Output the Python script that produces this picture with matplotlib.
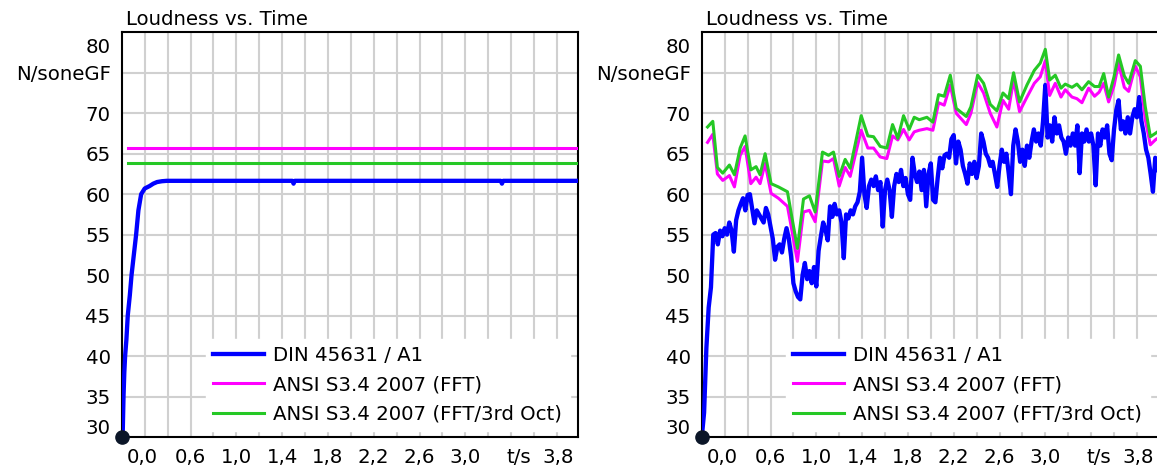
import numpy as np
import matplotlib
matplotlib.use("Agg")
import matplotlib.pyplot as plt

plt.rcParams['font.family'] = ['DejaVu Sans']
FS = 14.2

# ---------------- data ----------------
title_text = "Loudness vs. Time"
legend_labels = ["DIN 45631 / A1", "ANSI S3.4 2007 (FFT)", "ANSI S3.4 2007 (FFT/3rd Oct)"]

x_tick_values = [0.176, 0.6, 1.0, 1.4, 1.8, 2.2, 2.6, 3.0, 3.468, 3.812]
x_tick_labels = ["0,0", "0,6", "1,0", "1,4", "1,8", "2,2", "2,6", "3,0", "t/s", "3,8"]
y_tick_values = [31.27, 35, 40, 45, 50, 55, 60, 65, 70, 75, 78.43]
y_tick_labels = ["30", "35", "40", "45", "50", "55", "60", "65", "70", "N/soneGF", "80"]
x_grid = [0.2, 0.4, 0.6, 0.8, 1.0, 1.2, 1.4, 1.6, 1.8, 2.0, 2.2, 2.4, 2.6, 2.8,
          3.0, 3.2, 3.4, 3.6, 3.8]
y_grid = [35, 40, 45, 50, 55, 60, 65, 70, 75]

# Left panel (stationary signal)
left_din_t = [0.0, 0.008, 0.015, 0.022, 0.029, 0.04, 0.052, 0.07, 0.085, 0.105,
              0.125, 0.145, 0.169, 0.2, 0.242, 0.275, 0.308, 0.35, 0.393,
              1.49, 1.50, 1.51, 3.31, 3.32, 3.33, 3.985]
left_din_v = [30.0, 30.5, 35.0, 38.0, 40.0, 42.0, 45.0, 47.5, 50.0, 52.5,
              55.0, 58.0, 60.0, 60.7, 61.0, 61.3, 61.5, 61.6, 61.65,
              61.65, 61.3, 61.65, 61.65, 61.3, 61.65, 61.65]
left_fft_t = [0.05, 3.975]
left_fft_v = [65.75, 65.75]
left_oct_t = [0.05, 3.975]
left_oct_v = [63.9, 63.9]

# Right panel (time-varying signal)
right_din_v = [
    30.0, 33.0, 41.0, 46.0, 48.5, 55.0, 55.2, 53.8, 55.5, 54.8,
    55.8, 55.0, 56.5, 55.5, 52.9, 56.8, 58.0, 58.8, 59.5, 58.0,
    59.9, 60.0, 58.2, 56.4, 58.0, 57.5, 57.0, 56.5, 58.3, 57.5,
    56.0, 54.5, 51.9, 53.5, 53.8, 52.8, 54.5, 55.8, 54.5, 52.3,
    49.0, 48.0, 47.3, 47.0, 50.0, 51.5, 49.5, 50.5, 49.0, 51.0,
    48.6, 53.0, 54.8, 56.5, 55.6, 54.3, 58.5, 57.2, 58.8, 57.5,
    58.0, 56.5, 52.1, 57.5, 57.0, 58.0, 57.5, 58.5, 59.0, 60.3,
    64.5, 60.0, 58.3, 61.0, 61.8, 61.0, 62.2, 60.5, 61.5, 56.0,
    60.5, 61.8, 60.5, 57.2, 61.0, 62.5, 61.5, 63.0, 61.0, 62.0,
    60.0, 59.3, 64.5, 62.5, 61.5, 62.8, 60.5, 63.0, 58.5, 62.5,
    63.8, 59.3, 59.0, 62.0, 64.5, 63.2, 64.8, 65.0, 64.5, 66.8,
    67.3, 63.8, 66.5, 65.5, 63.5, 62.5, 61.3, 63.8, 62.5, 64.0,
    62.0, 63.5, 67.5, 66.5, 65.0, 64.5, 63.5, 64.0, 62.5, 60.9,
    63.5, 65.5, 64.0, 65.0, 62.6, 60.0, 66.0, 68.0, 66.5, 64.0,
    65.5, 63.5, 66.0, 64.5, 66.5, 68.0, 66.5, 67.5, 66.0, 69.0,
    73.5, 67.0, 68.5, 66.5, 69.5, 67.5, 68.5, 67.0, 66.5, 65.0,
    67.0, 66.0, 67.5, 66.0, 68.5, 62.6, 67.5, 66.5, 68.0, 66.5,
    67.5, 66.0, 61.1, 67.5, 66.0, 68.0, 67.0, 68.5, 65.0, 64.2,
    68.0, 70.4, 71.6, 68.0, 69.0, 67.5, 69.5, 67.5, 69.5, 70.5,
    69.5, 72.0, 69.0, 67.5, 65.5, 64.5, 62.5, 60.3, 64.5, 63.0,
]
right_din_t = np.arange(len(right_din_v)) * 0.02

right_curve_t = [0.05, 0.096, 0.136, 0.183, 0.241, 0.285, 0.335, 0.378, 0.428, 0.474,
                 0.509, 0.553, 0.605, 0.669, 0.748, 0.786, 0.835, 0.888, 0.94, 0.99,
                 1.054, 1.107, 1.15, 1.20, 1.252, 1.296, 1.392, 1.45, 1.50, 1.558,
                 1.616, 1.666, 1.712, 1.762, 1.811, 1.855, 1.899, 1.966, 2.018, 2.068,
                 2.117, 2.17, 2.222, 2.31, 2.35, 2.409, 2.461, 2.519, 2.577, 2.63,
                 2.68, 2.723, 2.775, 2.84, 2.904, 2.956, 3.00, 3.038, 3.087, 3.137,
                 3.174, 3.233, 3.276, 3.32, 3.378, 3.43, 3.47, 3.51, 3.553, 3.60,
                 3.64, 3.69, 3.728, 3.786, 3.83, 3.873, 3.917, 3.96, 3.98]
right_oct_v = [68.3, 69.0, 63.3, 62.6, 63.6, 62.4, 65.7, 67.2, 63.0, 63.4,
               62.4, 65.0, 61.3, 60.9, 60.3, 57.2, 53.3, 59.4, 59.8, 57.8,
               65.2, 64.8, 65.2, 62.2, 64.3, 63.2, 69.7, 67.2, 67.1, 65.9,
               65.7, 68.6, 66.9, 69.7, 68.0, 69.5, 69.2, 69.5, 68.9, 72.3,
               72.1, 74.7, 70.6, 69.6, 70.8, 74.7, 73.7, 71.1, 70.3, 72.5,
               71.8, 75.0, 71.4, 73.5, 75.3, 76.2, 77.9, 74.1, 74.7, 73.1,
               73.6, 73.2, 73.6, 72.9, 73.9, 73.3, 73.3, 74.9, 72.0, 74.5,
               77.2, 74.6, 73.7, 76.5, 75.8, 70.8, 67.1, 67.5, 67.7]
right_fft_v = [66.4, 67.4, 62.5, 61.7, 62.3, 60.9, 64.8, 65.9, 61.3, 62.1,
               61.3, 63.8, 60.1, 59.5, 58.5, 55.6, 51.7, 57.8, 58.0, 56.6,
               64.1, 64.0, 64.4, 61.0, 63.3, 62.2, 67.9, 65.7, 65.7, 64.6,
               64.4, 67.2, 66.7, 68.0, 66.7, 67.7, 67.9, 68.1, 67.9, 71.3,
               71.0, 73.5, 70.0, 68.6, 70.0, 73.8, 72.5, 70.0, 68.3, 71.6,
               70.5, 74.1, 70.2, 72.0, 73.7, 74.5, 76.5, 72.2, 73.7, 72.0,
               72.9, 72.0, 71.8, 71.3, 73.1, 72.1, 72.6, 73.7, 71.4, 73.4,
               76.2, 73.2, 72.7, 75.8, 74.5, 69.2, 66.1, 66.7, 66.9]

# ---------------- style ----------------
C_DIN = "#0000ff"
C_FFT = "#ff00ff"
C_OCT = "#25c825"
GRID_C = "#d0d0d0"

W, H = 1157, 470
fig = plt.figure(figsize=(W / 100, H / 100), dpi=100)
fig.patch.set_facecolor("white")

ax_w = 456.3 / W
ax_h = 404.7 / H
ax_b = 33.0 / H
ax1 = fig.add_axes([121.8 / W, ax_b, ax_w, ax_h])
ax2 = fig.add_axes([701.8 / W, ax_b, ax_w, ax_h])


def style_axes(ax):
    ax.set_xlim(0, 3.985)
    ax.set_ylim(30, 80)
    ax.xaxis.remove_overlapping_locs = False
    ax.yaxis.remove_overlapping_locs = False
    ax.set_xticks(x_grid, minor=True)
    ax.set_yticks(y_grid, minor=True)
    ax.set_xticks(x_tick_values, x_tick_labels)
    ax.set_yticks(y_tick_values, y_tick_labels)
    ax.tick_params(which="both", length=0)
    ax.tick_params(axis="x", which="major", pad=8.0, labelsize=FS, colors="black")
    ax.tick_params(axis="y", which="major", pad=8.0, labelsize=FS, colors="black")
    ax.grid(False, which="major")
    ax.grid(True, which="minor", color=GRID_C, linewidth=1.5)
    ax.set_axisbelow(True)
    for s in ax.spines.values():
        s.set_linewidth(1.5)
        s.set_color("black")
    ax.annotate(title_text, xy=(0, 1), xycoords="axes fraction",
                xytext=(4.5, 7.5), textcoords="offset pixels",
                ha="left", va="baseline", fontsize=FS, color="black")


def add_legend(ax, handles):
    leg = ax.legend(handles, legend_labels, loc="lower left",
                    bbox_to_anchor=(0.1845, 0.0145), borderaxespad=0,
                    frameon=True, fancybox=False, framealpha=1,
                    facecolor="white", edgecolor="white",
                    fontsize=FS, borderpad=0.37, handlelength=2.59,
                    handletextpad=0.46, labelspacing=0.53)
    leg.set_zorder(5)


# Left panel
style_axes(ax1)
h1, = ax1.plot(left_din_t, left_din_v, color=C_DIN, lw=3.1, zorder=3)
h2, = ax1.plot(left_fft_t, left_fft_v, color=C_FFT, lw=2.2, zorder=3)
h3, = ax1.plot(left_oct_t, left_oct_v, color=C_OCT, lw=2.2, zorder=3)
ax1.plot([0], [30], "o", ms=9.5, color="#0b1628", clip_on=False, zorder=10)
add_legend(ax1, [h1, h2, h3])

# Right panel
style_axes(ax2)
g1, = ax2.plot(right_din_t, right_din_v, color=C_DIN, lw=3.1, zorder=3)
g2, = ax2.plot(right_curve_t, right_fft_v, color=C_FFT, lw=2.2, zorder=3)
g3, = ax2.plot(right_curve_t, right_oct_v, color=C_OCT, lw=2.2, zorder=3)
ax2.plot([0], [30], "o", ms=9.5, color="#0b1628", clip_on=False, zorder=10)
add_legend(ax2, [g1, g2, g3])

fig.savefig("out.png", dpi=100, facecolor="white")
